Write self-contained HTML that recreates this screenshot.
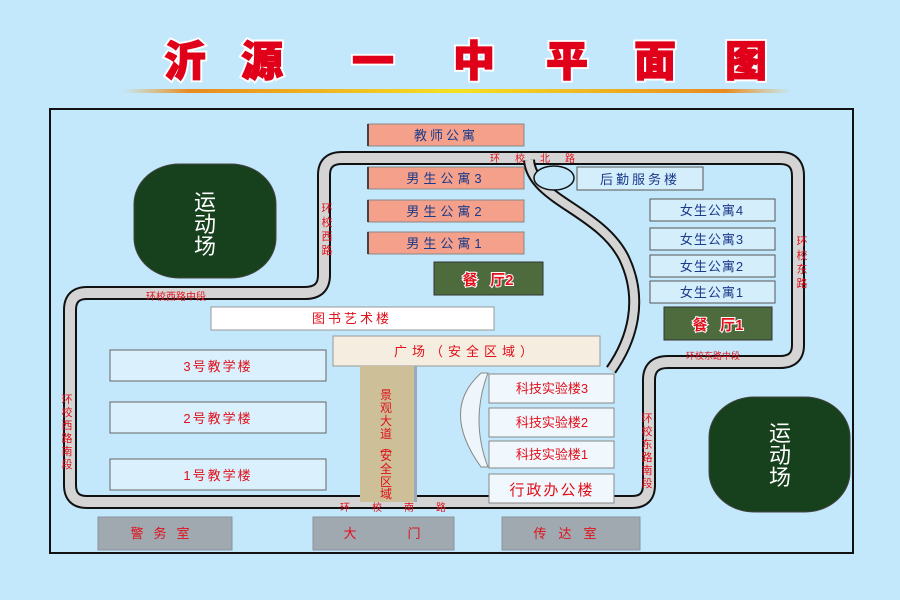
<!DOCTYPE html>
<html><head><meta charset="utf-8"><style>
html,body{margin:0;padding:0;background:#c3e8fb;}
svg{display:block;}
text{font-family:"Liberation Sans","Noto Sans CJK SC",sans-serif;}
</style></head><body>
<svg width="900" height="600" viewBox="0 0 900 600" xmlns="http://www.w3.org/2000/svg">
<defs>
<linearGradient id="ul" x1="0" x2="1" y1="0" y2="0">
<stop offset="0" stop-color="#f0a020" stop-opacity="0"/>
<stop offset="0.1" stop-color="#e88a20"/>
<stop offset="0.5" stop-color="#f5e020"/>
<stop offset="0.9" stop-color="#e88a20"/>
<stop offset="1" stop-color="#f0a020" stop-opacity="0"/>
</linearGradient>
</defs>
<rect width="900" height="600" fill="#c3e8fb"/>
<!-- title -->
<g font-size="42" font-weight="900" fill="#e0001a" stroke="#e0001a" stroke-width="1.2" text-anchor="middle">
<g stroke="#fff" stroke-width="5" fill="#fff">
<text x="185" y="76">沂</text><text x="262" y="76">源</text><text x="373" y="76">一</text>
<text x="474" y="76">中</text><text x="567" y="76">平</text><text x="655" y="76">面</text><text x="746" y="76">图</text>
</g>
<text x="185" y="76">沂</text><text x="262" y="76">源</text><text x="373" y="76">一</text>
<text x="474" y="76">中</text><text x="567" y="76">平</text><text x="655" y="76">面</text><text x="746" y="76">图</text>
</g>
<rect x="122" y="89" width="670" height="4" fill="url(#ul)"/>
<!-- frame -->
<rect x="50" y="109" width="803" height="444" fill="#c3e8fb" stroke="#111" stroke-width="2"/>
<!-- roads -->
<path d="M70,310 Q70,293 87,293 L305,293 Q324,293 324,275 L324,175 Q324,158 342,158 L780,158 Q798,158 798,176 L798,345 Q798,362 780,362 L668,362 Q649,362 649,380 L649,485 Q649,502 632,502 L87,502 Q70,502 70,485 Z" fill="none" stroke="#111" stroke-width="14"/>
<path d="M70,310 Q70,293 87,293 L305,293 Q324,293 324,275 L324,175 Q324,158 342,158 L780,158 Q798,158 798,176 L798,345 Q798,362 780,362 L668,362 Q649,362 649,380 L649,485 Q649,502 632,502 L87,502 Q70,502 70,485 Z" fill="none" stroke="#d4d4d4" stroke-width="10"/>
<path d="M529,160 C532,200 600,210 624,258 C644,300 632,340 611,370" fill="none" stroke="#111" stroke-width="12"/>
<path d="M529,160 C532,200 600,210 624,258 C644,300 632,340 611,370" fill="none" stroke="#d4d4d4" stroke-width="8"/>
<ellipse cx="554" cy="178" rx="20" ry="12" fill="#c3e8fb" stroke="#111" stroke-width="1.5"/>
<!-- road labels -->
<g fill="#e0101a" font-size="10">
<text x="490" y="162" letter-spacing="15">环校北路</text>
<text x="146" y="300">环校西路中段</text>
<text x="686" y="359" font-size="9">环校东路中段</text>
<text x="340" y="511" letter-spacing="22">环校南路</text>
</g>
<g fill="#e0101a" font-size="11" text-anchor="middle">
<text x="327" y="212">环</text><text x="327" y="226">校</text><text x="327" y="240">西</text><text x="327" y="254">路</text>
<text x="802" y="245">环</text><text x="802" y="259">校</text><text x="802" y="273">东</text><text x="802" y="287">路</text>
<text x="67" y="403">环</text><text x="67" y="416">校</text><text x="67" y="429">西</text><text x="67" y="442">路</text><text x="67" y="455">南</text><text x="67" y="468">段</text>
<text x="647" y="422">环</text><text x="647" y="435">校</text><text x="647" y="448">东</text><text x="647" y="461">路</text><text x="647" y="474">南</text><text x="647" y="487">段</text>
</g>
<!-- sports fields -->
<rect x="134" y="164" width="142" height="114" rx="45" ry="40" fill="#17401c" stroke="#444"/>
<g fill="#fff" font-size="22" text-anchor="middle"><text x="205" y="210">运</text><text x="205" y="232">动</text><text x="205" y="254">场</text></g>
<rect x="709" y="397" width="141" height="115" rx="45" ry="40" fill="#17401c" stroke="#444"/>
<g fill="#fff" font-size="22" text-anchor="middle"><text x="780" y="441">运</text><text x="780" y="463">动</text><text x="780" y="485">场</text></g>
<!-- salmon dorms -->
<g fill="#f4a08a" stroke="#888">
<rect x="368" y="124" width="156" height="22"/><rect x="368" y="167" width="156" height="22"/>
<rect x="368" y="200" width="156" height="22"/><rect x="368" y="232" width="156" height="22"/>
</g>
<g fill="#444" ><rect x="367" y="124" width="2" height="22"/><rect x="367" y="167" width="2" height="22"/><rect x="367" y="200" width="2" height="22"/><rect x="367" y="232" width="2" height="22"/></g>
<g fill="#1a3a8a" font-size="13" text-anchor="middle">
<text x="446" y="140" letter-spacing="3">教师公寓</text>
<text x="446" y="183" letter-spacing="4">男生公寓3</text>
<text x="446" y="216" letter-spacing="4">男生公寓2</text>
<text x="446" y="248" letter-spacing="4">男生公寓1</text>
</g>
<!-- canteens -->
<rect x="434" y="262" width="109" height="33" fill="#4e6b3e" stroke="#333"/>
<rect x="664" y="307" width="108" height="33" fill="#4e6b3e" stroke="#333"/>
<g fill="#e0101a" stroke="#fff" stroke-width="2" paint-order="stroke" font-size="15" font-weight="bold" text-anchor="middle">
<text x="488" y="285" xml:space="preserve">餐   厅2</text><text x="718" y="330" xml:space="preserve">餐   厅1</text>
</g>
<!-- logistics and girls dorms -->
<g fill="#d5eefc" stroke="#555">
<rect x="577" y="167" width="126" height="23"/>
<rect x="650" y="199" width="125" height="22"/><rect x="650" y="228" width="125" height="22"/>
<rect x="650" y="255" width="125" height="22"/><rect x="650" y="281" width="125" height="22"/>
</g>
<g fill="#1a3a8a" font-size="13" text-anchor="middle">
<text x="640" y="184" letter-spacing="3">后勤服务楼</text>
<text x="712" y="215" letter-spacing="1">女生公寓4</text>
<text x="712" y="244" letter-spacing="1">女生公寓3</text>
<text x="712" y="271" letter-spacing="1">女生公寓2</text>
<text x="712" y="297" letter-spacing="1">女生公寓1</text>
</g>
<!-- library, plaza, avenue -->
<rect x="211" y="307" width="283" height="23" fill="#fff" stroke="#999"/>
<text x="352" y="323" fill="#e0101a" font-size="13" text-anchor="middle" letter-spacing="3">图书艺术楼</text>
<rect x="333" y="336" width="267" height="30" fill="#f5ede0" stroke="#999"/>
<text x="466" y="356" fill="#e0101a" font-size="13" text-anchor="middle" letter-spacing="5">广场（安全区域）</text>
<rect x="360" y="366" width="54" height="136" fill="#cdbf98"/>
<rect x="414" y="366" width="3" height="136" fill="#9ab"/>
<g fill="#e0101a" font-size="12" text-anchor="middle">
<text x="386" y="399">景</text><text x="386" y="412">观</text><text x="386" y="425">大</text><text x="386" y="438">道</text>
<text x="386" y="451">︵</text><text x="386" y="460">安</text><text x="386" y="473">全</text><text x="386" y="486">区</text><text x="386" y="498">域</text>
</g>
<!-- teaching buildings -->
<g fill="#daf0fc" stroke="#666">
<rect x="110" y="350" width="216" height="31"/><rect x="110" y="402" width="216" height="31"/><rect x="110" y="459" width="216" height="31"/>
</g>
<g fill="#e0101a" font-size="13" text-anchor="middle" letter-spacing="2">
<text x="218" y="371">3号教学楼</text><text x="218" y="423">2号教学楼</text><text x="218" y="480">1号教学楼</text>
</g>
<!-- lab arc -->
<path d="M481,373 Q440,410 481,467 L488,467 Q470,420 488,373 Z" fill="#eef6fb" stroke="#888"/>
<!-- labs -->
<g fill="#f0f8fd" stroke="#888">
<rect x="489" y="374" width="125" height="29"/><rect x="489" y="408" width="125" height="29"/>
<rect x="489" y="441" width="125" height="27"/><rect x="489" y="474" width="125" height="29"/>
</g>
<g fill="#e0101a" font-size="13" text-anchor="middle">
<text x="552" y="393">科技实验楼3</text><text x="552" y="427">科技实验楼2</text><text x="552" y="459">科技实验楼1</text>
<text x="552" y="495" font-size="15" letter-spacing="2">行政办公楼</text>
</g>
<!-- gates -->
<g fill="#a0a8b0" stroke="#8a939b">
<rect x="98" y="517" width="134" height="33"/><rect x="313" y="517" width="141" height="33"/><rect x="502" y="517" width="138" height="33"/>
</g>
<g fill="#e0101a" font-size="13" text-anchor="middle">
<text x="165" y="538" letter-spacing="10">警务室</text>
<text x="350" y="538">大</text><text x="414" y="538">门</text>
<text x="571" y="538" letter-spacing="12">传达室</text>
</g>
</svg>
</body></html>
